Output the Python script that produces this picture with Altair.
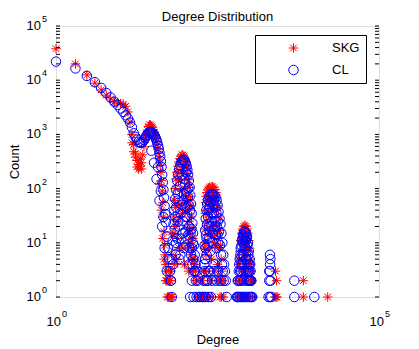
import altair as alt
import pandas as pd

FONT = "Liberation Sans"

# ---------------- data: (degree, count) ----------------
skg_head = [(1, 38000), (2, 20000), (3, 12500), (4, 8800), (5, 6600), (6, 5300), (7, 4500),
            (8, 4000), (9, 3800), (10, 3700), (11, 3600), (12, 3300), (13, 2600), (14, 1700),
            (15, 1000), (16, 650), (17, 450), (18, 330), (19, 280), (20, 260), (21, 300),
            (22, 420), (23, 600), (24, 800), (25, 1000), (26, 1200), (27, 1400), (28, 1500),
            (29, 1480), (30, 1420), (31, 1330), (32, 1220), (33, 1100), (34, 970), (35, 850),
            (36, 740), (37, 640), (38, 540), (39, 440), (40, 350), (41, 270), (42, 200),
            (43, 140), (44, 90), (45, 55), (46, 30), (47, 16), (48, 9), (49, 6), (50, 4),
            (51, 3), (52, 2), (53, 1), (54, 2), (55, 1), (56, 3), (57, 2), (58, 1), (59, 2),
            (61, 1), (63, 1),
            (15, 700), (16, 480), (17, 380), (18, 250), (19, 230), (20, 350), (21, 230),
            (40, 120), (43, 40), (45, 12), (47, 5), (50, 2)]
skg_hump2 = [(60, 3), (62, 6), (64, 14), (66, 30), (68, 60), (70, 100), (72, 150), (74, 200),
             (77, 260), (80, 310), (83, 360), (86, 395), (89, 420), (92, 415), (95, 395),
             (98, 365), (101, 325), (104, 280), (107, 235), (110, 190), (113, 145), (116, 105),
             (119, 72), (122, 48), (125, 30), (128, 19), (131, 12), (134, 8), (137, 5),
             (140, 4), (144, 3), (148, 2), (152, 2), (156, 1), (165, 1), (175, 1), (185, 2),
             (190, 1),
             (76, 12), (84, 30), (92, 8), (100, 55), (108, 18), (116, 40), (124, 6), (70, 20),
             (74, 5), (88, 90), (104, 70), (112, 9),
             (67, 15), (71, 45), (75, 25), (79, 140), (83, 50), (87, 200), (91, 35), (95, 250),
             (99, 100), (103, 40), (107, 150), (111, 60), (115, 25), (119, 15), (123, 10),
             (127, 5), (133, 3), (69, 4), (81, 8), (97, 4), (113, 3)]
skg_hump3 = [(192, 1), (195, 3), (198, 8), (201, 18), (204, 35), (207, 55), (211, 72),
             (216, 85), (222, 95), (230, 102), (240, 106), (252, 108), (265, 108), (278, 104),
             (290, 96), (300, 85), (310, 68), (320, 48), (330, 30), (340, 17), (350, 9),
             (360, 5), (370, 3), (380, 2), (322, 2), (346, 1), (390, 1), (200, 1), (230, 1),
             (260, 1),
             (210, 6), (225, 14), (240, 30), (255, 5), (270, 45), (285, 12), (300, 22),
             (315, 4), (235, 60), (275, 70),
             (203, 10), (212, 25), (220, 40), (228, 8), (238, 70), (248, 15), (258, 85),
             (268, 20), (282, 60), (292, 9), (305, 40), (318, 15), (335, 8), (215, 3),
             (250, 2), (290, 3), (330, 2), (365, 1)]
skg_hump4 = [(640, 1), (660, 2), (680, 4), (700, 7), (725, 11), (750, 15), (780, 18), (810, 20),
             (840, 21), (870, 20), (900, 18), (930, 15), (960, 11), (990, 8), (1020, 5),
             (1050, 3), (1080, 2), (1110, 1), (720, 1), (800, 1), (900, 1),
             (700, 2), (760, 5), (820, 3), (880, 8), (940, 4), (1000, 2), (740, 3), (860, 12),
             (690, 5), (730, 2), (770, 9), (790, 13), (830, 15), (850, 6), (890, 14),
             (910, 10), (950, 7), (970, 3), (1010, 4), (1040, 2), (710, 1), (850, 2),
             (1000, 1)]
skg_tail = [(2500, 3), (2600, 2), (2550, 1), (2650, 1), (2450, 1),
            (6740, 2), (6740, 1), (16070, 1)]

cl_head = [(1, 22000), (2, 16500), (3, 12000), (4, 9200), (5, 7200), (6, 5800), (7, 4800),
           (8, 4000), (9, 3500), (10, 3000), (11, 2600), (12, 2250), (13, 1950), (14, 1650),
           (15, 1350), (16, 1050), (17, 900), (18, 800), (19, 730), (20, 700), (21, 700),
           (22, 730), (23, 790), (24, 860), (25, 930), (26, 1000), (27, 1060), (28, 1100),
           (29, 1110), (30, 1100), (31, 1070), (32, 1030), (33, 980), (34, 920), (35, 850),
           (36, 780), (37, 700), (38, 620), (39, 540), (40, 460), (41, 390), (42, 320),
           (43, 250), (44, 180), (45, 130), (46, 95), (47, 68), (48, 48), (49, 34), (50, 24),
           (52, 13), (54, 8), (56, 5), (58, 3), (60, 2), (62, 1),
           (30, 500), (33, 300), (36, 150), (40, 60), (44, 20), (48, 8), (52, 3), (38, 250),
           (42, 90), (46, 30)]
cl_hump2 = [(60, 2), (62, 5), (64, 11), (66, 22), (68, 40), (70, 65), (72, 95), (75, 140),
            (78, 185), (81, 230), (84, 270), (87, 305), (90, 330), (93, 340), (96, 335),
            (99, 320), (102, 295), (105, 260), (108, 220), (111, 180), (114, 140), (117, 105),
            (120, 75), (123, 52), (126, 35), (129, 23), (132, 15), (136, 9), (140, 6),
            (145, 4), (150, 3), (156, 2), (162, 1), (127, 2), (119, 1), (135, 1), (150, 1),
            (170, 1), (185, 1),
            (72, 10), (78, 25), (84, 6), (88, 50), (92, 15), (96, 80), (100, 30), (104, 9),
            (108, 45), (112, 14), (116, 4), (76, 60), (100, 120), (110, 70), (70, 30),
            (65, 4), (67, 9), (69, 18), (71, 6), (73, 45), (75, 12), (77, 80), (79, 20),
            (81, 5), (83, 110), (85, 35), (87, 12), (89, 180), (91, 60), (93, 25), (95, 8),
            (97, 150), (99, 45), (101, 16), (103, 200), (105, 90), (107, 30), (109, 12),
            (111, 100), (113, 50), (115, 20), (117, 8), (119, 40), (121, 15), (123, 6),
            (125, 18), (127, 8), (129, 4), (131, 10), (133, 5), (137, 3), (141, 3), (146, 2)]
cl_hump3 = [(188, 1), (192, 2), (196, 4), (200, 9), (204, 17), (208, 28), (213, 40), (219, 52),
            (226, 62), (235, 70), (245, 75), (257, 78), (270, 78), (283, 75), (295, 69),
            (306, 60), (317, 49), (328, 37), (340, 28), (352, 22), (364, 15), (376, 10),
            (388, 6), (400, 4), (412, 3), (425, 2), (440, 1), (217, 2), (200, 1), (210, 1),
            (230, 1), (250, 1),
            (205, 5), (215, 12), (225, 3), (235, 20), (245, 7), (255, 35), (265, 10),
            (275, 50), (285, 4), (295, 25), (305, 8), (315, 14), (230, 40), (260, 25),
            (198, 3), (202, 5), (206, 8), (210, 14), (214, 6), (218, 22), (222, 9), (226, 30),
            (232, 12), (238, 45), (244, 16), (250, 55), (256, 20), (262, 60), (268, 15),
            (274, 35), (280, 60), (286, 20), (292, 45), (298, 14), (304, 35), (310, 20),
            (320, 25), (326, 10), (334, 16), (346, 9), (358, 6), (370, 4), (382, 3),
            (394, 2), (206, 2), (222, 2), (240, 3), (260, 2), (280, 3), (300, 2), (320, 3),
            (340, 2), (360, 2)]
cl_hump4 = [(630, 1), (650, 2), (675, 3), (700, 5), (725, 8), (755, 11), (785, 14), (815, 16),
            (845, 16), (875, 15), (905, 13), (935, 10), (965, 7), (995, 5), (1025, 3),
            (1055, 2), (1090, 1), (700, 1), (760, 1), (850, 1), (950, 1), (720, 2), (800, 2),
            (900, 2),
            (710, 3), (740, 4), (770, 6), (800, 3), (830, 9), (860, 5), (890, 7), (920, 4),
            (950, 3), (980, 2), (790, 10), (870, 11),
            (645, 1), (665, 2), (685, 4), (705, 2), (715, 6), (735, 3), (745, 9), (765, 4),
            (775, 12), (795, 6), (805, 13), (825, 4), (835, 12), (855, 8), (865, 3),
            (885, 12), (895, 5), (915, 9), (925, 3), (945, 6), (955, 2), (975, 4), (985, 3),
            (1005, 2), (1015, 4), (1035, 2), (1045, 1), (665, 1), (735, 1), (805, 1),
            (885, 1), (1005, 1), (1065, 1)]
cl_tail = [(1950, 1), (2050, 1), (2150, 1), (2000, 2), (2100, 2), (2050, 3), (2000, 3),
           (2060, 4), (2050, 6), (2080, 5),
           (4890, 2), (4890, 1), (9970, 1)]

series_names = ["SKG", "CL"]
series_colors = ["#ff0000", "#0000ff"]
chart_title = ["Degree Distribution"]

y_tick_vals = [1, 10, 100, 1000, 10000, 100000]
y_tick_exps = ["0", "1", "2", "3", "4", "5"]
x_tick_vals = [1, 100000]
x_tick_exps = ["0", "5"]
y_minor_vals = [m * 10 ** k for k in range(5) for m in range(2, 10)]

# ---------------- build ----------------
W, H = 323, 271
STAR = "M0,-1L0,1M-1,0L1,0M-0.7,-0.7L0.7,0.7M-0.7,0.7L0.7,-0.7"

skg = skg_head + skg_hump2 + skg_hump3 + skg_hump4 + skg_tail
cl = cl_head + cl_hump2 + cl_hump3 + cl_hump4 + cl_tail
pts = pd.DataFrame({
    "degree": [d for d, _ in skg] + [d for d, _ in cl],
    "count": [c for _, c in skg] + [c for _, c in cl],
    "series": ["SKG"] * len(skg) + ["CL"] * len(cl),
})

xs = alt.Scale(type="log", domain=[1, 100000], nice=False)
ys = alt.Scale(type="log", domain=[1, 100000], nice=False)

x_axis = alt.Axis(title="Degree", labels=False, ticks=False, domain=False, grid=False,
                  titleFont=FONT, titleFontSize=13, titleFontWeight="normal",
                  titleColor="black", titleBaseline="alphabetic", titleY=46)
y_axis = alt.Axis(title="Count", labels=False, ticks=False, domain=False, grid=False,
                  titleFont=FONT, titleFontSize=13, titleFontWeight="normal",
                  titleColor="black", titleBaseline="alphabetic", titleX=-38, titleY=H / 2)

leg = alt.Legend(title=None, orient="none", legendX=199, legendY=9,
                 fillColor="white", strokeColor="black", padding=6,
                 symbolOffset=26, labelOffset=32, clipHeight=14, rowPadding=8,
                 labelFont=FONT, labelFontSize=13, labelColor="black",
                 symbolSize=90, symbolStrokeWidth=1)

points = alt.Chart(pts).mark_point(filled=False, size=90, strokeWidth=1, opacity=1).encode(
    x=alt.X("degree:Q", scale=xs, axis=x_axis),
    y=alt.Y("count:Q", scale=ys, axis=y_axis),
    color=alt.Color("series:N", scale=alt.Scale(domain=series_names, range=series_colors),
                    legend=leg),
    shape=alt.Shape("series:N", scale=alt.Scale(domain=series_names, range=[STAR, "circle"]),
                    legend=leg),
)

ytick_df = pd.DataFrame({"v": y_tick_vals + y_minor_vals})
left_ticks = alt.Chart(ytick_df).mark_rule(color="black", strokeWidth=1).encode(
    y=alt.Y("v:Q", scale=ys, axis=y_axis), x=alt.value(0), x2=alt.value(4))
right_ticks = alt.Chart(ytick_df).mark_rule(color="black", strokeWidth=1).encode(
    y=alt.Y("v:Q", scale=ys, axis=y_axis), x=alt.value(W - 4), x2=alt.value(W))

ylab = pd.DataFrame({"v": y_tick_vals, "b": ["10"] * len(y_tick_vals), "e": y_tick_exps})
xlab = pd.DataFrame({"v": x_tick_vals, "b": ["10"] * len(x_tick_vals), "e": x_tick_exps})

ybase = alt.Chart(ylab).mark_text(align="right", baseline="alphabetic", font=FONT, fontSize=13,
                                  color="black", dy=4).encode(
    y=alt.Y("v:Q", scale=ys, axis=y_axis), x=alt.value(-15), text="b:N")
yexp = alt.Chart(ylab).mark_text(align="left", baseline="alphabetic", font=FONT, fontSize=9,
                                 color="black", dy=-4).encode(
    y=alt.Y("v:Q", scale=ys, axis=y_axis), x=alt.value(-14), text="e:N")
xbase = alt.Chart(xlab).mark_text(align="right", baseline="alphabetic", font=FONT, fontSize=13,
                                  color="black", dx=5).encode(
    x=alt.X("v:Q", scale=xs, axis=x_axis), y=alt.value(H + 29), text="b:N")
xexp = alt.Chart(xlab).mark_text(align="left", baseline="alphabetic", font=FONT, fontSize=9,
                                 color="black", dx=6).encode(
    x=alt.X("v:Q", scale=xs, axis=x_axis), y=alt.value(H + 20), text="e:N")

title_text = alt.Chart(pd.DataFrame({"t": chart_title})).mark_text(
    align="center", baseline="alphabetic", font=FONT, fontSize=13, color="black").encode(
    text="t:N", x=alt.value(W / 2), y=alt.value(-5))

chart = alt.layer(points, left_ticks, right_ticks, ybase, yexp, xbase, xexp,
                  title_text).properties(
    width=W, height=H,
    autosize=alt.AutoSizeParams(type="none"),
    padding={"left": 48, "top": 18, "right": 32, "bottom": 52},
).configure_view(stroke="black", strokeWidth=1).configure(background="white")

chart.save("out.html", embed_options={"renderer": "svg", "actions": False})
